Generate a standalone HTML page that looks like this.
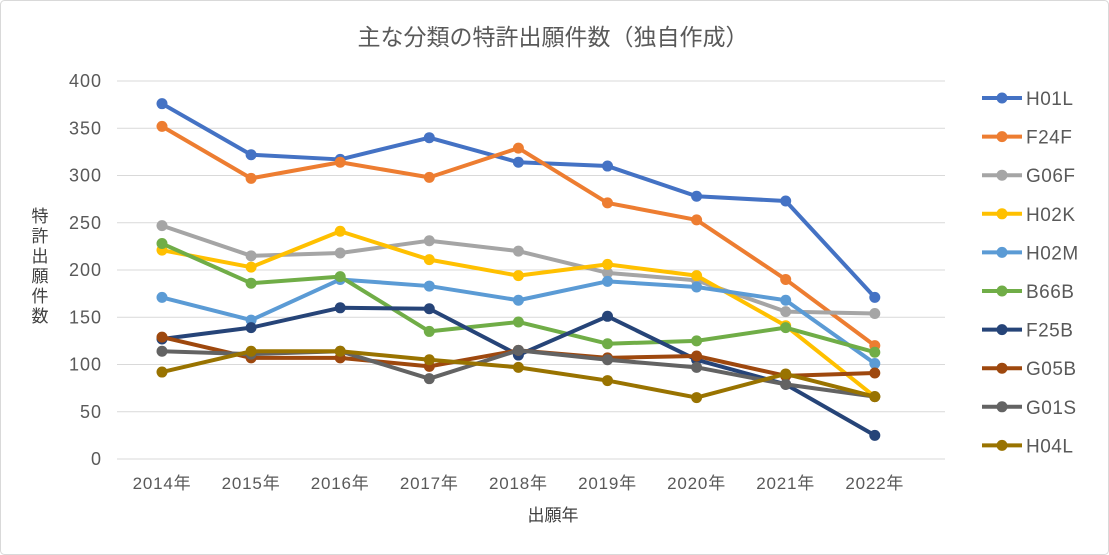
<!DOCTYPE html>
<html><head><meta charset="utf-8"><style>
body{margin:0;background:#fff;}
svg{display:block;font-family:"Liberation Sans","Noto Sans CJK JP",sans-serif;}
</style></head><body>
<svg id="c" width="1109" height="555">
<rect x="0.5" y="0.5" width="1108" height="554" rx="4" fill="#fff" stroke="#d9d9d9"/>
<text x="553" y="45" text-anchor="middle" font-size="23" fill="#595959">主な分類の特許出願件数（独自作成）</text>
<g id="grid"></g><g id="series"></g><g id="legend"></g>
<text x="553" y="521" text-anchor="middle" font-size="17" fill="#404040">出願年</text>
<text font-size="17" fill="#404040" text-anchor="middle"><tspan x="40" y="222">特</tspan><tspan x="40" y="242">許</tspan><tspan x="40" y="262">出</tspan><tspan x="40" y="282">願</tspan><tspan x="40" y="302">件</tspan><tspan x="40" y="322">数</tspan></text>
</svg>
<script>
const categories=["2014年","2015年","2016年","2017年","2018年","2019年","2020年","2021年","2022年"];
const yTicks=[0,50,100,150,200,250,300,350,400];
const seriesNames=["H01L","F24F","G06F","H02K","H02M","B66B","F25B","G05B","G01S","H04L"];
const seriesColors=["#4472C4","#ED7D31","#A5A5A5","#FFC000","#5B9BD5","#70AD47","#264478","#9E480E","#636363","#997300"];
const H01L=[376,322,317,340,314,310,278,273,171];
const F24F=[352,297,314,298,329,271,253,190,120];
const G06F=[247,215,218,231,220,197,189,156,154];
const H02K=[221,203,241,211,194,206,194,141,66];
const H02M=[171,147,190,183,168,188,182,168,101];
const B66B=[228,186,193,135,145,122,125,139,113];
const F25B=[127,139,160,159,110,151,105,79,25];
const G05B=[129,107,107,98,115,107,109,88,91];
const G01S=[114,111,114,85,115,105,97,79,66];
const H04L=[92,114,114,105,97,83,65,90,66];
const seriesData=[H01L,F24F,G06F,H02K,H02M,B66B,F25B,G05B,G01S,H04L];
const NS="http://www.w3.org/2000/svg";
const x=i=>162+i*89.1, y=v=>459-v*0.945;
function mk(t,a,p){const e=document.createElementNS(NS,t);for(const k in a)e.setAttribute(k,a[k]);p.appendChild(e);return e;}
const grid=document.getElementById('grid');
yTicks.forEach(v=>{
 const l=mk('line',{x1:117,x2:945,y1:y(v),y2:y(v),stroke:'#d9d9d9','stroke-width':1},grid);
 
 
 const t=mk('text',{x:102,y:y(v)+6,'text-anchor':'end','font-size':18,'letter-spacing':1,fill:'#595959'},grid);t.textContent=v;
 
 
});
categories.forEach((c,i)=>{
 const t=mk('text',{x:x(i),y:489,'text-anchor':'middle','font-size':17,'letter-spacing':0.8,fill:'#595959'},grid);t.textContent=c;
 
 
});
const sg=document.getElementById('series'),lg=document.getElementById('legend');
seriesData.forEach((d,s)=>{
 const g=mk('g',{},sg);
 
 
 mk('polyline',{points:d.map((v,i)=>x(i)+','+y(v)).join(' '),fill:'none',stroke:seriesColors[s],'stroke-width':4,'stroke-linejoin':'round'},g);
 d.forEach((v,i)=>{const p=mk('circle',{cx:x(i),cy:y(v),r:5.5,fill:seriesColors[s]},g);
  
  });
 const ly=98+s*38.6;
 const le=mk('g',{},lg);
 
 
 mk('line',{x1:982,x2:1022,y1:ly,y2:ly,stroke:seriesColors[s],'stroke-width':4},le);
 mk('circle',{cx:1002,cy:ly,r:5.5,fill:seriesColors[s]},le);
 const t=mk('text',{x:1026,y:ly+7,'font-size':19,'letter-spacing':0.5,fill:'#595959'},le);t.textContent=seriesNames[s];
});
</script>
</body></html>
